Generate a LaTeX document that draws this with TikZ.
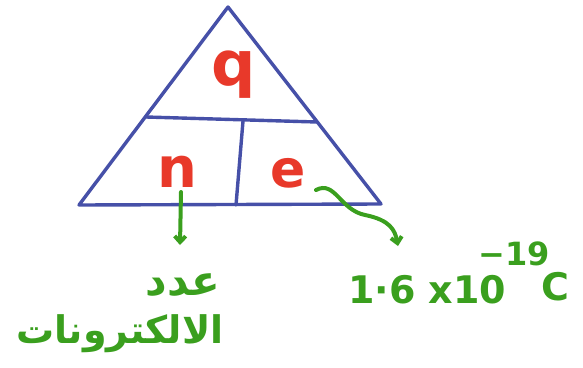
\documentclass[tikz,border=0pt]{standalone}
\usepackage{fontspec}
\setmainfont{DejaVu Sans}
\newfontfamily\arabicfont[Script=Arabic]{DejaVu Sans}
\TeXXeTstate=1
\usetikzlibrary{arrows.meta}
\definecolor{tblue}{HTML}{4650A8}
\definecolor{tred}{HTML}{E8392A}
\definecolor{tgreen}{HTML}{3A9F1E}
\tikzset{
  edge/.style={draw=tblue, line width=3.4pt, line join=round, line cap=round},
  var/.style={text=tred, inner sep=0pt},
  note/.style={text=tgreen, inner sep=0pt},
  pointer/.style={draw=tgreen, line width=4pt, line cap=round, -{Straight Barb[length=6pt,width=11pt]}},
}
\begin{document}
\begin{tikzpicture}[x=1pt,y=-1pt]
\useasboundingbox (0,0) rectangle (583,367);
% triangle corners
\coordinate (top) at (228,7);
\coordinate (bl) at (79,205);
\coordinate (br) at (381,204);
\coordinate (ml) at (146,117);
\coordinate (mr) at (317,122);
\coordinate (vt) at (243,121);
\coordinate (vb) at (236,205);
\draw[edge] (top) -- (bl) -- (br) -- cycle;
\draw[edge] (ml) -- (mr);
\draw[edge] (vt) -- (vb);
% variables
\node[var, font=\fontsize{62}{62}\selectfont\bfseries] (q) at (234,75) {q};
\node[var, font=\fontsize{56}{56}\selectfont\bfseries] (n) at (177,172) {n};
\node[var, font=\fontsize{52}{52}\selectfont\bfseries] (e) at (288,173) {e};
% notes
\node[note, font=\fontsize{42}{42}\selectfont\bfseries\arabicfont] (count1) at (183,285) {\beginR عدد\endR};
\node[note, font=\fontsize{38}{38}\selectfont\bfseries\arabicfont] (count2) at (120,334) {\beginR الالكترونات\endR};
\node[note, font=\fontsize{38}{38}\selectfont\bfseries, anchor=base west] (charge) at (348,303) {1·6 x10};
\node[note, font=\fontsize{32}{32}\selectfont\bfseries, anchor=base west] (expo) at (478,265) {−19};
\node[note, font=\fontsize{38}{38}\selectfont\bfseries, anchor=base west] (unit) at (541,300) {C};
\coordinate (a1) at (181,192);
\coordinate (a1e) at (180,245);
\coordinate (a2) at (316,190);
\coordinate (a2e) at (398,246);
\draw[pointer] (a1) -- (a1e);
\draw[pointer] (a2) .. controls (335,180) and (340,210) .. (365,215) .. controls (390,220) and (395,230) .. (a2e);
\end{tikzpicture}
\end{document}
